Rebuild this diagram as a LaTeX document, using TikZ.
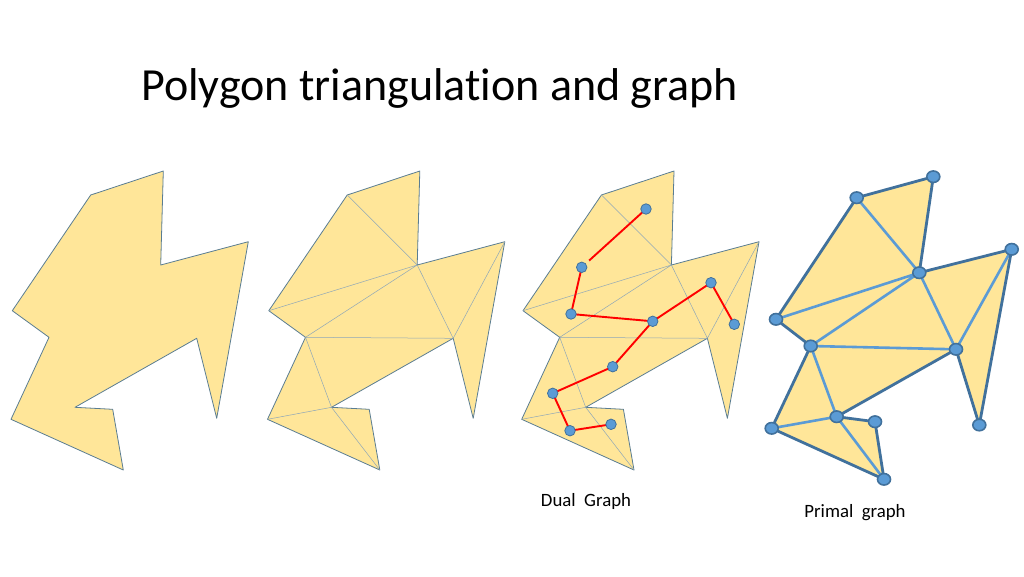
\documentclass[tikz,border=0pt]{standalone}
\usepackage{fontspec}
\setmainfont{Carlito}[Ligatures=NoCommon]
\usetikzlibrary{shapes.geometric}
\definecolor{polyfill}{HTML}{FFE699}
\definecolor{polyline}{HTML}{5A7D92}
\definecolor{diagline}{HTML}{8EA7B8}
\definecolor{nodefill}{HTML}{5B9BD5}
\definecolor{nodeline}{HTML}{41719C}
\definecolor{dualred}{HTML}{FF0000}
\newcommand\mkpoly[2]{%
  \coordinate (#1A) at ({90.7+#2},195);
  \coordinate (#1B) at ({163.3+#2},171);
  \coordinate (#1C) at ({160.7+#2},265);
  \coordinate (#1D) at ({248.3+#2},241.7);
  \coordinate (#1E) at ({216.7+#2},418.3);
  \coordinate (#1F) at ({196.7+#2},338.3);
  \coordinate (#1G) at ({75+#2},407.3);
  \coordinate (#1H) at ({112.7+#2},409.3);
  \coordinate (#1I) at ({123.3+#2},470);
  \coordinate (#1J) at ({11+#2},419.3);
  \coordinate (#1K) at ({49+#2},337.3);
  \coordinate (#1L) at ({12.3+#2},310.7);
  \fill[polyfill,draw=polyline,line width=0.8pt,line join=round]
    (#1A)--(#1B)--(#1C)--(#1D)--(#1E)--(#1F)--(#1G)--(#1H)--(#1I)--(#1J)--(#1K)--(#1L)--cycle;
}
\newcommand\mkdiag[1]{%
  \draw[diagline,line width=0.5pt]
    (#1A)--(#1C) (#1L)--(#1C) (#1K)--(#1C) (#1K)--(#1F) (#1C)--(#1F)
    (#1F)--(#1D) (#1K)--(#1G) (#1J)--(#1G) (#1G)--(#1I);
}
\tikzset{
  dualnode/.style={circle,fill=nodefill,draw=nodeline,line width=0.8pt,minimum size=10.5pt,inner sep=0pt},
  dualedge/.style={dualred,line width=1.9pt},
  primnode/.style={ellipse,fill=nodefill,draw=nodeline,line width=1.6pt,minimum width=13pt,minimum height=11.5pt,inner sep=0pt},
  boundedge/.style={nodeline,line width=2.8pt},
  diagedge/.style={nodefill,line width=2.6pt},
  labeltext/.style={font=\fontsize{18.8}{22}\selectfont,inner sep=0pt}
}
\begin{document}
\begin{tikzpicture}[x=1pt,y=-1pt]
\useasboundingbox (0,0) rectangle (1024,576);
\fill[white] (0,0) rectangle (1024,576);
\node[anchor=base west,font=\fontsize{46}{52}\selectfont,inner sep=0pt] (title) at (141,100) {Polygon triangulation and graph};
% polygon 1
\mkpoly{a}{0}
% polygon 2
\mkpoly{b}{256.5}
\mkdiag{b}
% polygon 3 with dual graph
\mkpoly{c}{510.7}
\mkdiag{c}
\coordinate (q1) at (646,209);
\coordinate (q2) at (581.7,267.3);
\coordinate (q3) at (571,314);
\coordinate (q4) at (652.7,321.3);
\coordinate (q5) at (711,282.7);
\coordinate (q6) at (734.3,324.3);
\coordinate (q7) at (612.7,366.7);
\coordinate (q8) at (552.7,393.3);
\coordinate (q9) at (570,430.7);
\coordinate (q10) at (611,424.3);
\draw[dualedge,shorten >=10pt] (q1)--(q2);
\draw[dualedge,line join=round] (q2)--(q3)--(q4)--(q5)--(q6);
\draw[dualedge,line join=round] (q4)--(q7)--(q8)--(q9)--(q10);
\foreach \i in {1,...,10}{\node[dualnode] (d\i) at (q\i) {};}
\node[labeltext,anchor=base] (duallabel) at (586,506.5) {Dual\ \ Graph};
% polygon 4 primal graph
\coordinate (pA) at (856.7,197.7);
\coordinate (pB) at (933.3,176.7);
\coordinate (pC) at (919.3,272.7);
\coordinate (pD) at (1011.7,249.3);
\coordinate (pE) at (979.3,425);
\coordinate (pF) at (956,349.3);
\coordinate (pG) at (836.7,416.7);
\coordinate (pH) at (875,421.7);
\coordinate (pI) at (884,479.3);
\coordinate (pJ) at (771.7,428.3);
\coordinate (pK) at (810.7,346);
\coordinate (pL) at (776,319.3);
\fill[polyfill] (pA)--(pB)--(pC)--(pD)--(pE)--(pF)--(pG)--(pH)--(pI)--(pJ)--(pK)--(pL)--cycle;
\draw[diagedge] (pA)--(pC) (pL)--(pC) (pK)--(pC) (pK)--(pF) (pC)--(pF)
  (pF)--(pD) (pK)--(pG) (pJ)--(pG) (pG)--(pI);
\draw[boundedge,line join=round] (pA)--(pB)--(pC)--(pD)--(pE)--(pF)--(pG)--(pH)--(pI)--(pJ)--(pK)--(pL)--cycle;
\foreach \v in {A,B,C,D,E,F,G,H,I,J,K,L}{\node[primnode] (v\v) at (p\v) {};}
\node[labeltext,anchor=base] (primallabel) at (855,517.5) {Primal\ \ graph};
\end{tikzpicture}
\end{document}
